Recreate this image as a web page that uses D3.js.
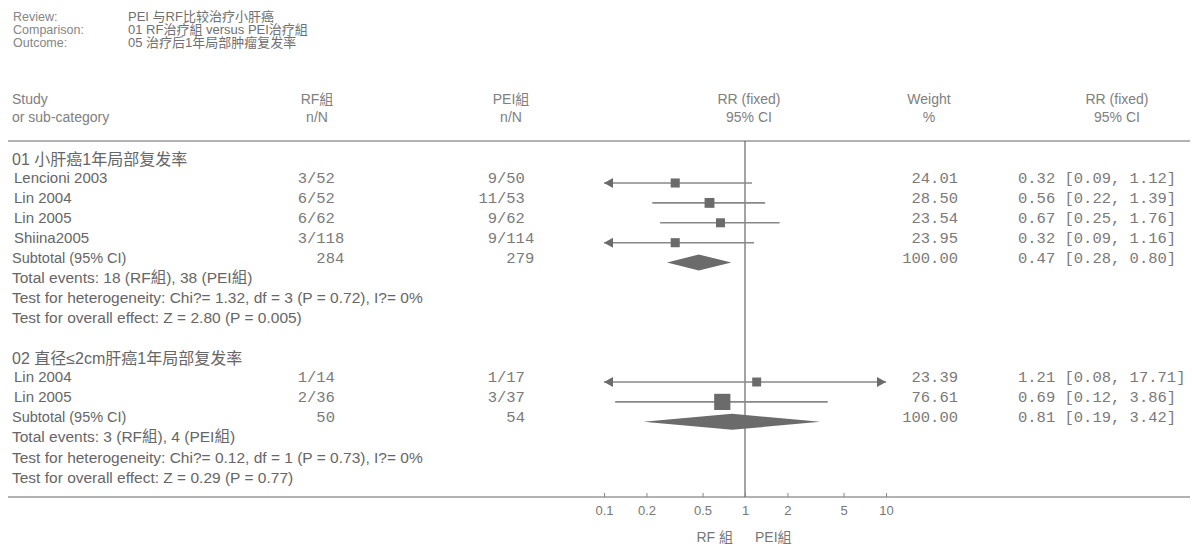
<!DOCTYPE html>
<html>
<head>
<meta charset="utf-8">
<script src="https://cdn.jsdelivr.net/npm/d3@7"></script>
<style>
  body { margin: 0; background: #fff; }
  text { font-family: "Liberation Sans", Arial, "Noto Sans CJK SC", sans-serif; fill: #666; }
  .mono { font-family: "Liberation Mono", "Courier New", monospace; font-size: 15.5px; fill: #7a7a7a; }
</style>
</head>
<body>
<div id="chart"></div>
<script>
// header text
var headLabels = ["Review:", "Comparison:", "Outcome:"];
var headValues = ["PEI 与RF比较治疗小肝癌", "01 RF治疗組 versus  PEI治疗組", "05 治疗后1年局部肿瘤复发率"];

// subgroup 1
var group1 = "01 小肝癌1年局部复发率";
var studies1 = ["Lencioni 2003", "Lin 2004", "Lin 2005", "Shiina2005"];
var rfEv1 = [3, 6, 6, 3],  rfN1 = [52, 52, 62, 118];
var peiEv1 = [9, 11, 9, 9], peiN1 = [50, 53, 62, 114];
var weight1 = [24.01, 28.50, 23.54, 23.95];
var rr1 = [0.32, 0.56, 0.67, 0.32];
var lo1 = [0.09, 0.22, 0.25, 0.09];
var hi1 = [1.12, 1.39, 1.76, 1.16];
var sub1 = [284, 279, 100.00, 0.47, 0.28, 0.80];   // rf N, pei N, weight, rr, lo, hi
var notes1 = ["Total events: 18 (RF組), 38 (PEI組)",
              "Test for heterogeneity: Chi?= 1.32, df = 3 (P = 0.72), I?= 0%",
              "Test for overall effect: Z = 2.80 (P = 0.005)"];

// subgroup 2
var group2 = "02 直径≤2cm肝癌1年局部复发率";
var studies2 = ["Lin 2004", "Lin 2005"];
var rfEv2 = [1, 2],  rfN2 = [14, 36];
var peiEv2 = [1, 3], peiN2 = [17, 37];
var weight2 = [23.39, 76.61];
var rr2 = [1.21, 0.69];
var lo2 = [0.08, 0.12];
var hi2 = [17.71, 3.86];
var sub2 = [50, 54, 100.00, 0.81, 0.19, 3.42];
var notes2 = ["Total events: 3 (RF組), 4 (PEI組)",
              "Test for heterogeneity: Chi?= 0.12, df = 1 (P = 0.73), I?= 0%",
              "Test for overall effect: Z = 0.29 (P = 0.77)"];

var ticks = [0.1, 0.2, 0.5, 1, 2, 5, 10];

var width = 1192, height = 548;
var svg = d3.select("#chart").append("svg")
            .attr("width", width)
            .attr("height", height);

var x = d3.scaleLog().domain([0.1, 10]).range([604, 886]);
var row = d3.scaleLinear().domain([0, 1]).range([163.1, 183]);   // row index -> baseline
var box = d3.scaleSqrt().domain([0, 100]).range([0, 18.5]);
var lineCol = "#888", markCol = "#6b6b6b";
var xRF = 307, xPEI = 497, chw = 9.35;   // slash positions, mono char width

// review header
headLabels.forEach(function(t, i) {
  svg.append("text").attr("x", 13).attr("y", 21 + i * 13)
     .style("font-size", "12.5px").style("fill", "#858585").text(t);
  svg.append("text").attr("x", 128).attr("y", 21 + i * 13)
     .style("font-size", "13px").style("fill", "#707070").text(headValues[i]);
});

// column headers
var cols = [
  {x: 12, a: "start", t: ["Study", "or sub-category"]},
  {x: 317, a: "middle", t: ["RF組", "n/N"]},
  {x: 511, a: "middle", t: ["PEI組", "n/N"]},
  {x: 749, a: "middle", t: ["RR (fixed)", "95% CI"]},
  {x: 929, a: "middle", t: ["Weight", "%"]},
  {x: 1117, a: "middle", t: ["RR (fixed)", "95% CI"]}
];
cols.forEach(function(c) {
  c.t.forEach(function(t, i) {
    svg.append("text").attr("x", c.x).attr("y", 104 + i * 18)
       .attr("text-anchor", c.a).style("font-size", "14px").style("fill", "#808080").text(t);
  });
});

svg.append("line").attr("x1", 8).attr("x2", 1190).attr("y1", 141).attr("y2", 141)
   .attr("stroke", "#999").attr("stroke-width", 1.5);
svg.append("line").attr("x1", 8).attr("x2", 1190).attr("y1", 497).attr("y2", 497)
   .attr("stroke", "#999").attr("stroke-width", 1.5);

// line of no effect
svg.append("line").attr("x1", x(1)).attr("x2", x(1)).attr("y1", 141).attr("y2", 497)
   .attr("stroke", "#666").attr("stroke-width", 1.2);

function fraction(xs, y, ev, n) {
  svg.append("text").attr("class", "mono").attr("x", xs).attr("y", y)
     .attr("text-anchor", "end").text(ev);
  svg.append("text").attr("class", "mono").attr("x", xs).attr("y", y).text("/" + n);
}

function ciText(y, w, r, l, h) {
  svg.append("text").attr("class", "mono").attr("x", 958).attr("y", y)
     .attr("text-anchor", "end").text(w.toFixed(2));
  svg.append("text").attr("class", "mono").attr("x", 1018).attr("y", y)
     .attr("xml:space", "preserve")
     .text(r.toFixed(2) + " [" + l.toFixed(2) + ", " + h.toFixed(2) + "]");
}

function arrow(xt, y, dir) {
  svg.append("path")
     .attr("d", d3.line()([[xt, y], [xt + dir * 9, y - 5], [xt + dir * 9, y + 5]]) + "Z")
     .attr("fill", markCol);
}

function drawGroup(start, title, studies, rfEv, rfN, peiEv, peiN, w, rr, lo, hi, sub, notes) {
  svg.append("text").attr("x", 12).attr("y", row(start) + 2)
     .style("font-size", "16px").text(title);

  studies.forEach(function(s, i) {
    var y = row(start + 1 + i);
    svg.append("text").attr("x", 14).attr("y", y).style("font-size", "15px").text(s);
    fraction(xRF, y, rfEv[i], rfN[i]);
    fraction(xPEI, y, peiEv[i], peiN[i]);
    ciText(y, w[i], rr[i], lo[i], hi[i]);

    var x1 = x(Math.max(lo[i], 0.1)), x2 = x(Math.min(hi[i], 10));
    svg.append("line").attr("x1", x1).attr("x2", x2).attr("y1", y).attr("y2", y)
       .attr("stroke", lineCol).attr("stroke-width", 1.6);
    if (lo[i] < 0.1) arrow(x(0.1), y, 1);
    if (hi[i] > 10) arrow(x(10), y, -1);
    var b = box(w[i]);
    svg.append("rect").attr("x", x(rr[i]) - b / 2).attr("y", y - b / 2)
       .attr("width", b).attr("height", b).attr("fill", markCol);
  });

  var ys = row(start + 1 + studies.length);
  svg.append("text").attr("x", 12).attr("y", ys).style("font-size", "14.5px").text("Subtotal (95% CI)");
  svg.append("text").attr("class", "mono").attr("x", xRF + chw).attr("y", ys).text(sub[0]);
  svg.append("text").attr("class", "mono").attr("x", xPEI + chw).attr("y", ys).text(sub[1]);
  ciText(ys, sub[2], sub[3], sub[4], sub[5]);
  svg.append("path")
     .attr("d", d3.line()([[x(sub[4]), ys], [x(sub[3]), ys - 8], [x(sub[5]), ys], [x(sub[3]), ys + 8]]) + "Z")
     .attr("fill", markCol);

  notes.forEach(function(t, i) {
    svg.append("text").attr("x", 12).attr("y", row(start + 2 + studies.length + i) + (i > 0 ? 1 : 0))
       .style("font-size", "15.5px").text(t);
  });
}

drawGroup(0, group1, studies1, rfEv1, rfN1, peiEv1, peiN1, weight1, rr1, lo1, hi1, sub1, notes1);
drawGroup(10, group2, studies2, rfEv2, rfN2, peiEv2, peiN2, weight2, rr2, lo2, hi2, sub2, notes2);

// axis
var axis = d3.axisBottom(x).tickValues(ticks).tickFormat(function(d) { return d; })
             .tickSize(-4).tickPadding(9);
var g = svg.append("g").attr("transform", "translate(0,497)").call(axis);
g.select(".domain").remove();
g.selectAll(".tick line").attr("stroke", "#888");
g.selectAll(".tick text").style("font-size", "13px").style("fill", "#777")
 .style("font-family", "'Liberation Sans', Arial, sans-serif");

svg.append("text").attr("x", 733).attr("y", 542).attr("text-anchor", "end")
   .style("font-size", "14px").style("fill", "#777").text("RF 組");
svg.append("text").attr("x", 755).attr("y", 542)
   .style("font-size", "14px").style("fill", "#777").text("PEI組");
</script>
</body>
</html>
